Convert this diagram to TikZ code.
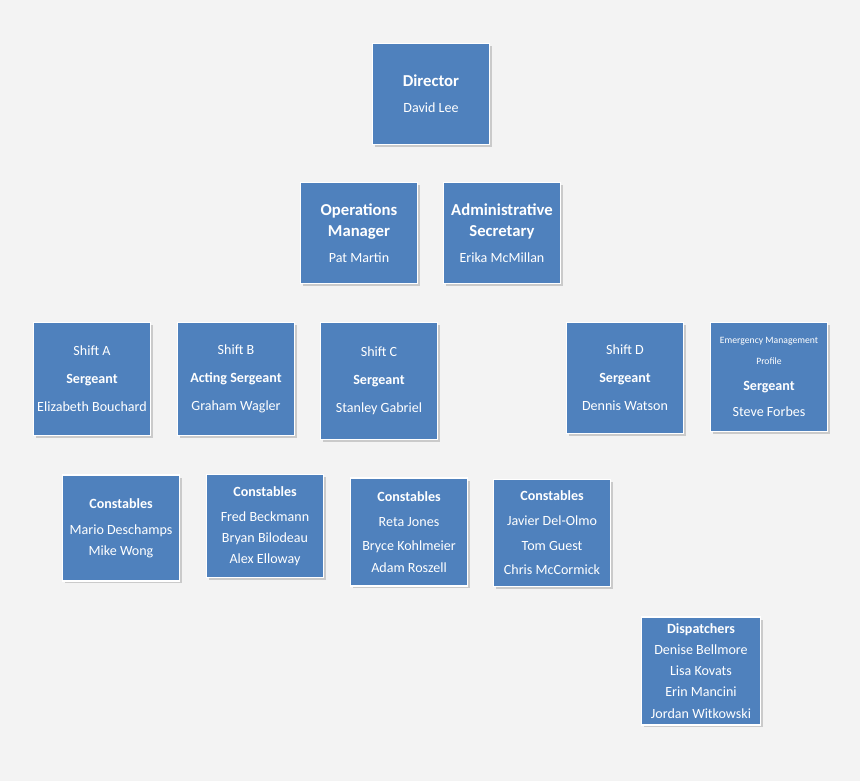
\documentclass[tikz,border=0pt]{standalone}
\usepackage{fontspec}
\setmainfont{Carlito}
\usetikzlibrary{shadows,positioning,calc,backgrounds}
\definecolor{boxblue}{HTML}{4F81BD}
\definecolor{lineblue}{HTML}{4A78B2}
\definecolor{bggray}{HTML}{F3F3F3}
\begin{document}
\begin{tikzpicture}
[x=0.02cm,y=-0.02cm,
post/.style={shape=rectangle,draw=white,line width=0.8pt,fill=boxblue,text=white,
  align=center,minimum width=2.34cm,inner sep=1pt,font=\fontsize{8}{12}\selectfont,
  drop shadow={opacity=.35,shadow xshift=.5mm,shadow yshift=-.5mm}},
tall/.style={post,minimum height=2.02cm},
myedge/.style={draw=lineblue,line width=1.4pt}]
%%
\fill[bggray] (0,0) rectangle (860,781);
\node (dir) [tall] at (431,94) {\textbf{\fontsize{9.5}{12}\selectfont Director}\\[3pt] David Lee};
\node (ops) [tall] at (359,233) {\textbf{\fontsize{9.5}{12}\selectfont Operations}\\\textbf{\fontsize{9.5}{12}\selectfont Manager}\\[3pt] Pat Martin};
\node (sec) [tall] at (502,233) {\textbf{\fontsize{9.5}{12}\selectfont Administrative}\\\textbf{\fontsize{9.5}{12}\selectfont Secretary}\\[3pt] Erika McMillan};
%%
\node (sa) [post,minimum height=2.26cm] at (92,379) {Shift A\\[4pt]\textbf{Sergeant}\\[4pt]Elizabeth Bouchard};
\node (sb) [post,minimum height=2.26cm] at (236,379) {Shift B\\[4pt]\textbf{Acting Sergeant}\\[4pt]Graham Wagler};
\node (sc) [post,minimum height=2.34cm] at (379,381) {Shift C\\[4pt]\textbf{Sergeant}\\[4pt]Stanley Gabriel};
\node (sd) [post,minimum height=2.22cm] at (625,378) {Shift D\\[4pt]\textbf{Sergeant}\\[4pt]Dennis Watson};
\node (em) [post,minimum height=2.18cm] at (769,377) {{\fontsize{5.5}{6.5}\selectfont Emergency Management}\\{\fontsize{5.5}{6.5}\selectfont Profile}\\[3pt]\textbf{Sergeant}\\[3pt]Steve Forbes};
%%
\node (ca) [post,minimum height=2.12cm] at (121,528) {\textbf{Constables}\\[3pt]Mario Deschamps\\Mike Wong};
\node (cb) [post,minimum height=2.06cm] at (265,526) {\textbf{Constables}\\[2pt]Fred Beckmann\\Bryan Bilodeau\\Alex Elloway};
\node (cc) [post,minimum height=2.16cm] at (409,532) {\textbf{Constables}\\[2pt]Reta Jones\\[2pt]Bryce Kohlmeier\\Adam Roszell};
\node (cd) [post,minimum height=2.14cm] at (552,533) {\textbf{Constables}\\[2pt]Javier Del-Olmo\\[2pt]Tom Guest\\[2pt]Chris McCormick};
\node (dp) [post,minimum height=2.16cm,minimum width=2.38cm] at (701,671) {\textbf{Dispatchers}\\Denise Bellmore\\Lisa Kovats\\Erin Mancini\\Jordan Witkowski};
%%
\begin{scope}[on background layer]
\coordinate (hub) at (431,303);
\draw[myedge] (dir) -- (hub);
\draw[myedge] (ops.east) -- (sec.west);
\draw[myedge] (sa.north) |- (hub) -| (em.north);
\draw[myedge] (sb.north) -- (sb.north |- hub);
\draw[myedge] (sc.north) -- (sc.north |- hub);
\draw[myedge] (sd.north) -- (sd.north |- hub);
\draw[myedge] ($(sa.south west)+(10,0)$) |- (ca.west);
\draw[myedge] ($(sb.south west)+(10,0)$) |- (cb.west);
\draw[myedge] ($(sc.south west)+(10,0)$) |- (cc.west);
\draw[myedge] (sd.south) |- (dp.west);
\draw[myedge] (cd.east) -- (cd.east -| sd.south);
\end{scope}
\end{tikzpicture}
\end{document}
